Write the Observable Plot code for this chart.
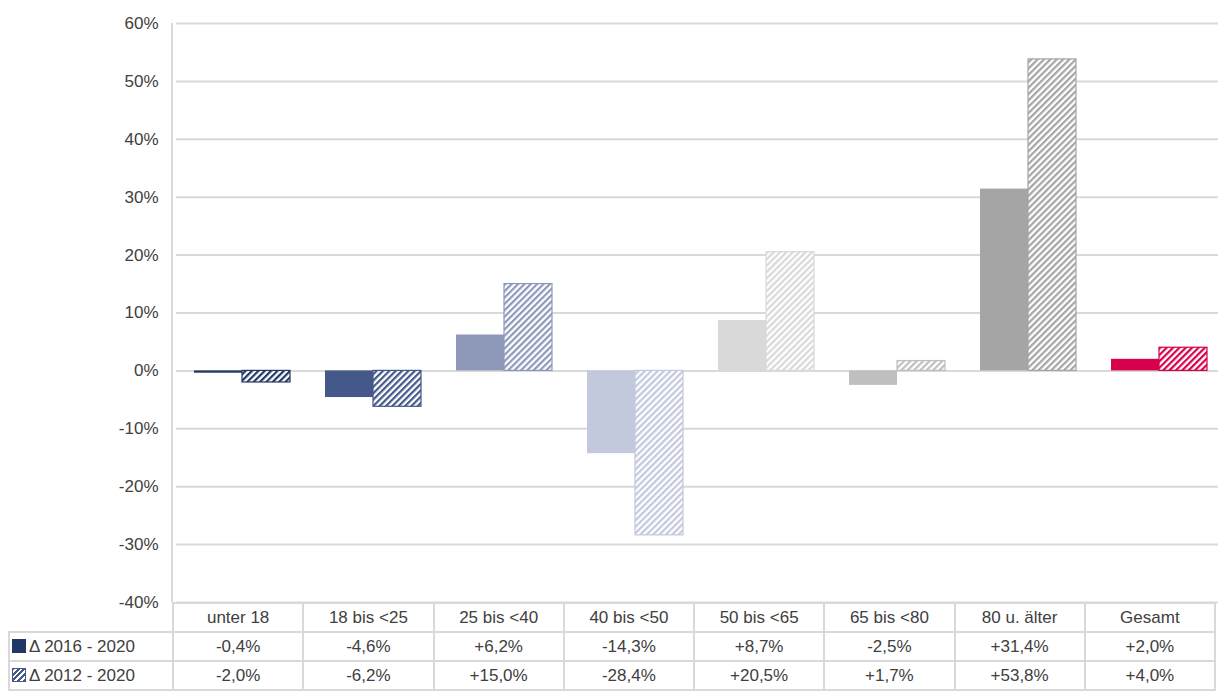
<!DOCTYPE html>
<html><head><meta charset="utf-8">
<script src="https://cdn.jsdelivr.net/npm/d3@7"></script>
<script src="https://cdn.jsdelivr.net/npm/@observablehq/plot@0.6"></script>
<style>
body{margin:0;background:#fff;font-family:"Liberation Sans",Arial,sans-serif;overflow:hidden}
#chart{width:1218px;height:612px;overflow:hidden}
#chart svg{display:block;max-width:none !important}
#table{position:relative;margin-top:-10px}
table{border-collapse:collapse;table-layout:fixed;font-size:17px;color:#404040;margin-left:8px;width:1208px}
td{border:2px solid #d9d9d9;text-align:center;height:27px;padding:0;white-space:nowrap}
td.lab{text-align:left;padding-left:2px}
td.blank{border:none}
.sw{display:inline-block;width:14px;height:14px;vertical-align:-1px;margin-right:3px}
</style></head><body>
<div id="chart"></div>
<div id="table"></div>
<script>
const categories = ["unter 18","18 bis <25","25 bis <40","40 bis <50","50 bis <65","65 bis <80","80 u. älter","Gesamt"];
const colors = ["#203864","#44588a","#8e99ba","#c3c9dd","#d9d9d9","#bfbfbf","#a5a5a5","#d6004c"];
const series = ["Δ 2016 - 2020","Δ 2012 - 2020"];
const v2016 = [-0.4,-4.6,6.2,-14.3,8.7,-2.5,31.4,2.0];
const v2012 = [-2.0,-6.2,15.0,-28.4,20.5,1.7,53.8,4.0];
const yTicks = [-40,-30,-20,-10,0,10,20,30,40,50,60];

const data = [];
categories.forEach((c,i)=>{
  data.push({cat:c, s:series[0], v:v2016[i], key:"s"+i});
  data.push({cat:c, s:series[1], v:v2012[i], key:"h"+i});
});
const keys = [], fills = [];
colors.forEach((c,i)=>{keys.push("s"+i); fills.push(c); keys.push("h"+i); fills.push("url(#hp"+i+")");});
const strokeOf = d => d.key[0]==="h" ? colors[+d.key.slice(1)] : "none";

const plot = Plot.plot({
  width:1227, height:612,
  marginTop:23, marginBottom:10, marginLeft:172, marginRight:0,
  style:{fontFamily:"Liberation Sans, Arial, sans-serif", fontSize:"17px", color:"#404040", background:"none", maxWidth:"none"},
  fx:{domain:categories, padding:0, axis:null},
  x:{domain:series, paddingInner:0, paddingOuter:0.345, axis:null},
  y:{domain:[-40,60], ticks:yTicks, grid:false, label:null},
  color:{type:"ordinal", domain:keys, range:fills},
  marks:[
    Plot.ruleY(yTicks,{stroke:"#d9d9d9",strokeWidth:2}),
    Plot.barY(data,{fx:"cat", x:"s", y:"v", fill:"key", stroke:strokeOf, strokeWidth:1.2}),
    Plot.axisY({ticks:yTicks, tickFormat:d=>d+"%", tickSize:0, tickPadding:18, fontSize:17, anchor:"left", label:null}),
  ]
});
const svg = d3.select(plot);
const defs = svg.insert("defs",":first-child");
colors.forEach((c,i)=>{
  const p = defs.append("pattern").attr("id","hp"+i).attr("patternUnits","userSpaceOnUse")
    .attr("width",4.5).attr("height",4.5).attr("patternTransform","rotate(45)");
  p.append("rect").attr("width",4.5).attr("height",4.5).attr("fill","#fff");
  p.append("rect").attr("width",2.2).attr("height",4.5).attr("fill",c);
});
svg.append("line").attr("x1",172).attr("x2",172).attr("y1",23).attr("y2",602)
  .attr("stroke","#d9d9d9").attr("stroke-width",2);
document.getElementById("chart").appendChild(plot);

// data table
const fmt = v => (v>0?"+":"")+v.toFixed(1).replace(".",",")+"%";
let html = '<table><colgroup><col style="width:164px">'+categories.map(()=>'<col>').join("")+'</colgroup>';
html += '<tr><td class="blank"></td>'+categories.map(c=>'<td>'+c+'</td>').join("")+'</tr>';
html += '<tr><td class="lab"><span class="sw" style="background:'+colors[0]+'"></span>'+series[0]+'</td>'+v2016.map(v=>'<td>'+fmt(v)+'</td>').join("")+'</tr>';
html += '<tr><td class="lab"><span class="sw" style="background:repeating-linear-gradient(-45deg,'+colors[1]+' 0 2px,#fff 2px 4px);border:1px solid '+colors[1]+';box-sizing:border-box"></span>'+series[1]+'</td>'+v2012.map(v=>'<td>'+fmt(v)+'</td>').join("")+'</tr>';
html += '</table>';
document.getElementById("table").innerHTML = html;
</script>
</body></html>
